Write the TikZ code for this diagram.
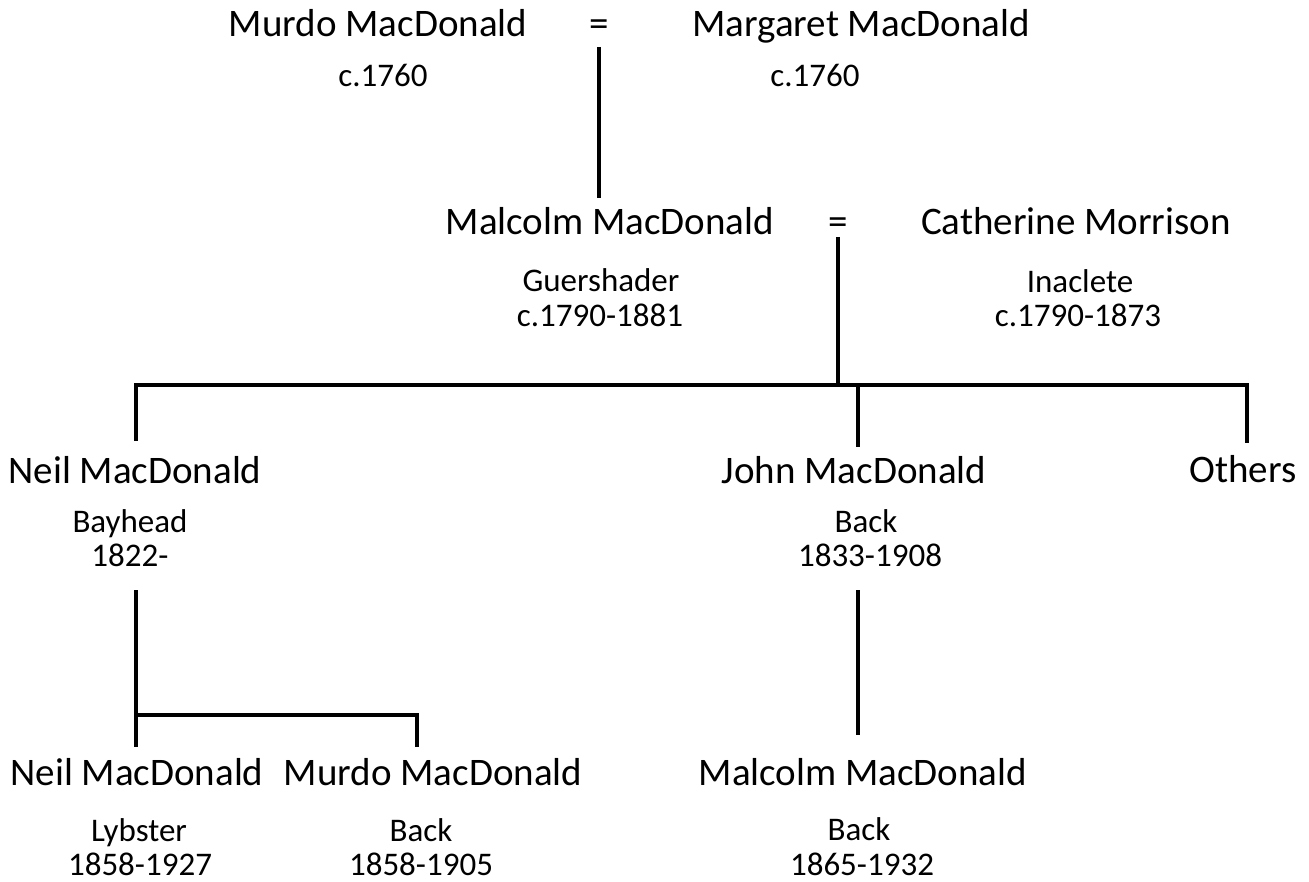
\documentclass[tikz,border=0pt]{standalone}
\usepackage{fontspec}
\setmainfont{Carlito}
\begin{document}
\begin{tikzpicture}[x=1pt,y=-1pt,
  namebox/.style={anchor=base,inner sep=0pt,font=\fontsize{39}{47}\selectfont},
  infobox/.style={anchor=base,inner sep=0pt,font=\fontsize{33}{35}\selectfont},
  link/.style={line width=4pt,line cap=butt,line join=miter}]
\useasboundingbox (0,0) rectangle (1309,882);
% generation 1
\node[namebox] (murdo1) at (378,37) {Murdo MacDonald};
\node[namebox] (eq1) at (599,37) {=};
\node[namebox] (marg) at (861,37) {Margaret MacDonald};
\node[infobox] (murdo1d) at (383,87) {c.1760};
\node[infobox] (margd) at (815,87) {c.1760};
% generation 2
\node[namebox] (malc1) at (610,235) {Malcolm MacDonald};
\node[namebox] (eq2) at (838,235) {=};
\node[namebox] (cath) at (1076,235) {Catherine Morrison};
\node[infobox] (malc1p) at (601,292) {Guershader};
\node[infobox] (malc1d) at (600,327) {c.1790-1881};
\node[infobox] (cathp) at (1080,293) {Inaclete};
\node[infobox] (cathd) at (1078,327) {c.1790-1873};
% generation 3
\node[namebox] (neil1) at (135,483) {Neil MacDonald};
\node[infobox] (neil1p) at (130,532) {Bayhead};
\node[infobox] (neil1d) at (130,566) {1822-};
\node[namebox] (john) at (854,483) {John MacDonald};
\node[infobox] (johnp) at (866,532) {Back};
\node[infobox] (johnd) at (870,566) {1833-1908};
\node[namebox] (others) at (1243,482) {Others};
% generation 4
\node[namebox] (neil2) at (137,785) {Neil MacDonald};
\node[infobox] (neil2p) at (139,841) {Lybster};
\node[infobox] (neil2d) at (140,875) {1858-1927};
\node[namebox] (murdo2) at (433,785) {Murdo MacDonald};
\node[infobox] (murdo2p) at (421,841) {Back};
\node[infobox] (murdo2d) at (421,875) {1858-1905};
\node[namebox] (malc2) at (863,785) {Malcolm MacDonald};
\node[infobox] (malc2p) at (859,840) {Back};
\node[infobox] (malc2d) at (862,875) {1865-1932};
% junction coordinates
\coordinate (c1top) at (599,47);
\coordinate (c1bot) at (599,198);
\coordinate (c2top) at (838,237);
\coordinate (c2bar) at (838,385);
\coordinate (barL) at (136,385);
\coordinate (barR) at (1247,385);
\coordinate (neil1top) at (136,441);
\coordinate (johntop) at (858,385);
\coordinate (johnend) at (858,447);
\coordinate (othersend) at (1247,443);
\coordinate (n1down) at (136,590);
\coordinate (n1bar) at (136,715);
\coordinate (n2top) at (136,747);
\coordinate (m2bar) at (417,715);
\coordinate (m2top) at (417,747);
\coordinate (jdown) at (858,590);
\coordinate (malc2top) at (858,735);
% connectors
\draw[link] (c1top) -- (c1bot);
\draw[link] (c2top) -- (c2bar);
\draw[link] (neil1top) -- (barL) -- (barR) -- (othersend);
\draw[link] (johntop) -- (johnend);
\draw[link] (n1down) -- (n2top);
\draw[link] (n1bar) -- (m2bar) -- (m2top);
\draw[link] (jdown) -- (malc2top);
\end{tikzpicture}
\end{document}
